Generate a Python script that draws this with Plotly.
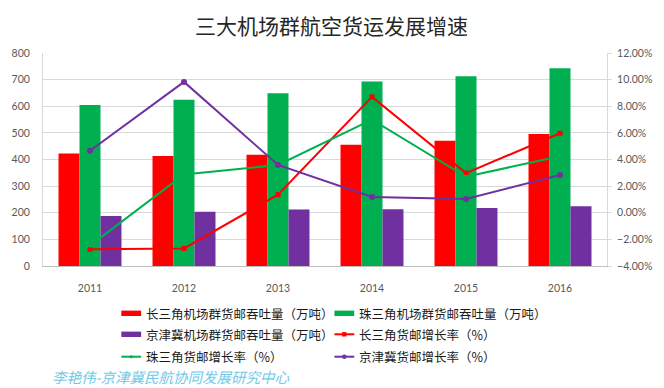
import plotly.graph_objects as go

# ---- data ----
years = ["2011", "2012", "2013", "2014", "2015", "2016"]
yrd_volume = [423, 413, 418, 455, 470, 496]     # 长三角 万吨
prd_volume = [605, 624, 649, 693, 713, 743]     # 珠三角 万吨
jjj_volume = [188, 204, 212, 213, 218, 224]     # 京津冀 万吨
yrd_growth = [-2.75, -2.68, 1.36, 8.70, 2.98, 5.97]  # %
prd_growth = [-2.47, 2.88, 3.59, 7.00, 2.70, 4.25]   # %
jjj_growth = [4.66, 9.83, 3.59, 1.18, 1.03, 2.83]    # %

names = [
    "长三角机场群货邮吞吐量（万吨）",
    "珠三角机场群货邮吞吐量（万吨）",
    "京津冀机场群货邮吞吐量（万吨）",
    "长三角货邮增长率（%）",
    "珠三角货邮增长率（%）",
    "京津冀货邮增长率（%）",
]
title_text = "三大机场群航空货运发展增速"
watermark = "李艳伟-京津冀民航协同发展研究中心"

RED = "#ff0000"
GREEN = "#00b050"
PURPLE = "#7030a0"

W, H = 664, 388
L, R, T, B = 40, 55, 53, 122
PW, PH = W - L - R, H - T - B

def px(x):
    return (x - L) / PW

def py(y):
    return (H - B - y) / PH

fig = go.Figure()
for vals, col, nm in [(yrd_volume, RED, names[0]), (prd_volume, GREEN, names[1]), (jjj_volume, PURPLE, names[2])]:
    fig.add_trace(go.Bar(x=years, y=vals, name=nm, marker=dict(color=col, line=dict(width=0)),
                         showlegend=False))

fig.add_trace(go.Scatter(x=years, y=yrd_growth, yaxis="y2", mode="lines+markers", name=names[3],
                         line=dict(color=RED, width=2), marker=dict(symbol="square", size=5, color=RED),
                         showlegend=False))
fig.add_trace(go.Scatter(x=years, y=prd_growth, yaxis="y2", mode="lines+markers", name=names[4],
                         line=dict(color=GREEN, width=2), marker=dict(symbol="circle", size=4, color=GREEN),
                         showlegend=False))
fig.add_trace(go.Scatter(x=years, y=jjj_growth, yaxis="y2", mode="lines+markers", name=names[5],
                         line=dict(color=PURPLE, width=2), marker=dict(symbol="circle", size=6, color=PURPLE),
                         showlegend=False))

tickfont = dict(family="Lato, 'Liberation Sans', sans-serif", size=10.5, color="#595959")
cjk = "'Noto Sans CJK SC', sans-serif"

fig.update_layout(
    width=W, height=H,
    margin=dict(l=L, r=R, t=T, b=B),
    paper_bgcolor="white", plot_bgcolor="white",
    barmode="group", bargap=0.33, bargroupgap=0,
    xaxis=dict(type="category", showgrid=False, showline=True, linecolor="#bfbfbf", linewidth=1,
               ticks="", tickfont=tickfont, ticklabelstandoff=12),
    yaxis=dict(range=[0, 800], dtick=100, showgrid=True, gridcolor="#d9d9d9", gridwidth=1,
               showline=True, linecolor="#d9d9d9", zeroline=False, ticks="",
               tickfont=tickfont, ticklabelstandoff=10),
    yaxis2=dict(range=[-4, 12], dtick=2, overlaying="y", side="right", showgrid=False,
                showline=True, linecolor="#d9d9d9", zeroline=False, ticks="outside", ticklen=4,
                tickcolor="#d9d9d9", tickformat=".2f", ticksuffix="%", tickfont=tickfont,
                ticklabelstandoff=3),
    font=dict(family=cjk),
)

shapes = []
annotations = []

annotations.append(dict(text=title_text, x=px(331), y=py(25), xref="paper", yref="paper",
                        xanchor="center", yanchor="middle", showarrow=False,
                        font=dict(family=cjk, size=21, color="#262626")))

legend_items = [
    (0, 119, 313.3, "bar", RED, None),
    (1, 334, 313.3, "bar", GREEN, None),
    (2, 119, 334.3, "bar", PURPLE, None),
    (3, 334, 334.3, "line", RED, "square"),
    (4, 119, 356.7, "line", GREEN, "circle_s"),
    (5, 334, 356.7, "line", PURPLE, "circle"),
]
for idx, x0, yc, kind, col, mk in legend_items:
    if kind == "bar":
        shapes.append(dict(type="rect", xref="paper", yref="paper", x0=px(x0), x1=px(x0 + 20),
                           y0=py(yc - 2.7), y1=py(yc + 2.7), fillcolor=col, line=dict(width=0)))
    else:
        shapes.append(dict(type="line", xref="paper", yref="paper", x0=px(x0), x1=px(x0 + 20),
                           y0=py(yc), y1=py(yc), line=dict(color=col, width=2)))
        r = 2.2 if mk == "square" else (1.5 if mk == "circle_s" else 2.3)
        shapes.append(dict(type="rect" if mk == "square" else "circle", xref="paper", yref="paper",
                           x0=px(x0 + 10 - r), x1=px(x0 + 10 + r), y0=py(yc - r), y1=py(yc + r),
                           fillcolor=col, line=dict(width=0)))
    annotations.append(dict(text=names[idx], x=px(x0 + 24), y=py(yc), xref="paper", yref="paper",
                            xanchor="left", yanchor="middle", showarrow=False, borderpad=0,
                            font=dict(family=cjk, size=12.5, color="#1a1a1a")))

annotations.append(dict(text=watermark, x=px(48), y=py(376), xref="paper", yref="paper",
                        xanchor="left", yanchor="middle", showarrow=False, borderpad=0,
                        font=dict(family=cjk, size=14.5, color="#72c9e8", style="italic")))

fig.update_layout(shapes=shapes, annotations=annotations)

fig.write_html("out.html", config={"displayModeBar": False},
               post_script="document.body.style.margin='0';document.body.style.overflow='hidden';")
